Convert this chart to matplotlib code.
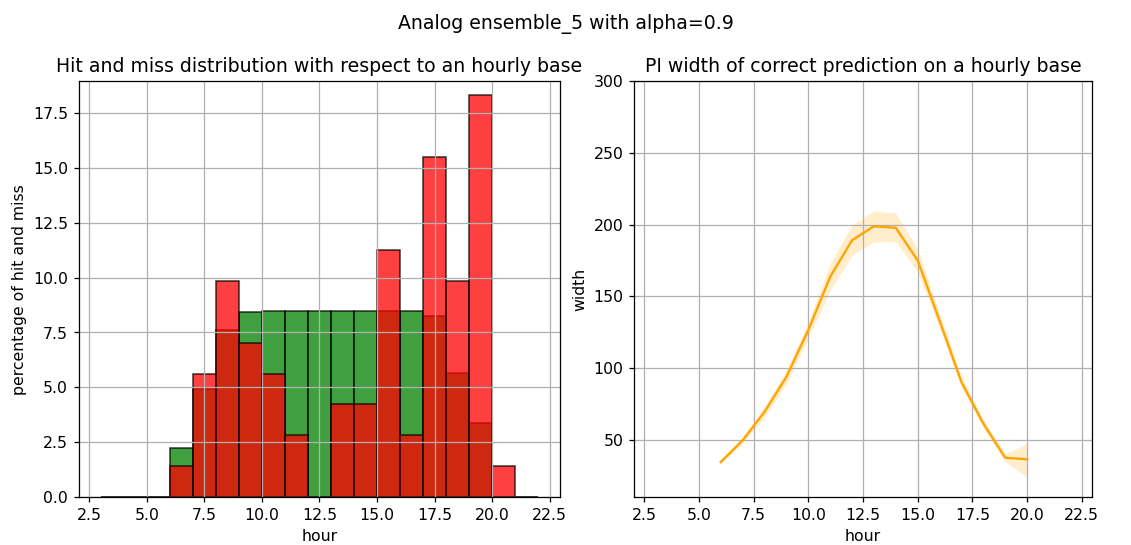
import matplotlib
matplotlib.use("Agg")
import matplotlib.pyplot as plt
import numpy as np

# hourly bins (left edge), 3h .. 21h
bin_start = np.arange(3, 22)
hit_pct = [0, 0, 0, 2.24, 4.92, 7.61, 8.45, 8.49, 8.49, 8.49, 8.49, 8.49,
           8.49, 8.49, 8.25, 5.66, 3.36, 0, 0]
miss_pct = [0, 0, 0, 1.41, 5.63, 9.86, 7.04, 5.63, 2.82, 0, 4.23, 4.23,
            11.27, 2.82, 15.49, 9.86, 18.31, 1.41, 0]

# PI width of the correct predictions, mean and 95% band per hour
hours = [6, 7, 8, 9, 10, 11, 12, 13, 14, 15, 16, 17, 18, 19, 20]
width_mean = [34.4, 49.5, 69.3, 93.7, 126.3, 163.5, 189.0, 198.8, 197.7,
              175.0, 133.0, 90.2, 61.2, 37.4, 36.3]
width_low = [33.0, 47.5, 65.5, 89.0, 120.5, 154.0, 178.6, 187.9, 187.9,
             167.0, 128.0, 86.5, 58.5, 34.4, 24.0]
width_high = [36.0, 51.5, 73.0, 98.5, 132.0, 172.8, 199.5, 209.5, 208.0,
              183.0, 138.0, 94.0, 64.0, 40.0, 47.2]

fig = plt.figure(figsize=(10, 4.82), dpi=113.1)
ax1 = fig.add_axes([0.0698, 0.088, 0.4253, 0.763])
ax2 = fig.add_axes([0.5608, 0.088, 0.4044, 0.763], sharex=ax1)

ax1.bar(bin_start, hit_pct, width=1, align='edge', color='green',
        alpha=0.75, edgecolor='black', linewidth=1)
ax1.bar(bin_start, miss_pct, width=1, align='edge', color='red',
        alpha=0.75, edgecolor='black', linewidth=1)
ax1.set_ylim(0, 18.96)
ax1.set_title('Hit and miss distribution with respect to an hourly base')
ax1.set_xlabel('hour')
ax1.set_ylabel('percentage of hit and miss')
ax1.grid(True)

ax2.fill_between(hours, width_low, width_high, color='orange', alpha=0.2,
                 linewidth=0)
ax2.plot(hours, width_mean, color='orange', linewidth=1.5)
ax2.set_ylim(10, 300)
ax2.set_title('PI width of correct prediction on a hourly base')
ax2.set_xlabel('hour')
ax2.set_ylabel('width')
ax2.grid(True)

fig.suptitle('Analog ensemble_5 with alpha=0.9', y=0.975)

fig.savefig('out.png', dpi=113.1)
